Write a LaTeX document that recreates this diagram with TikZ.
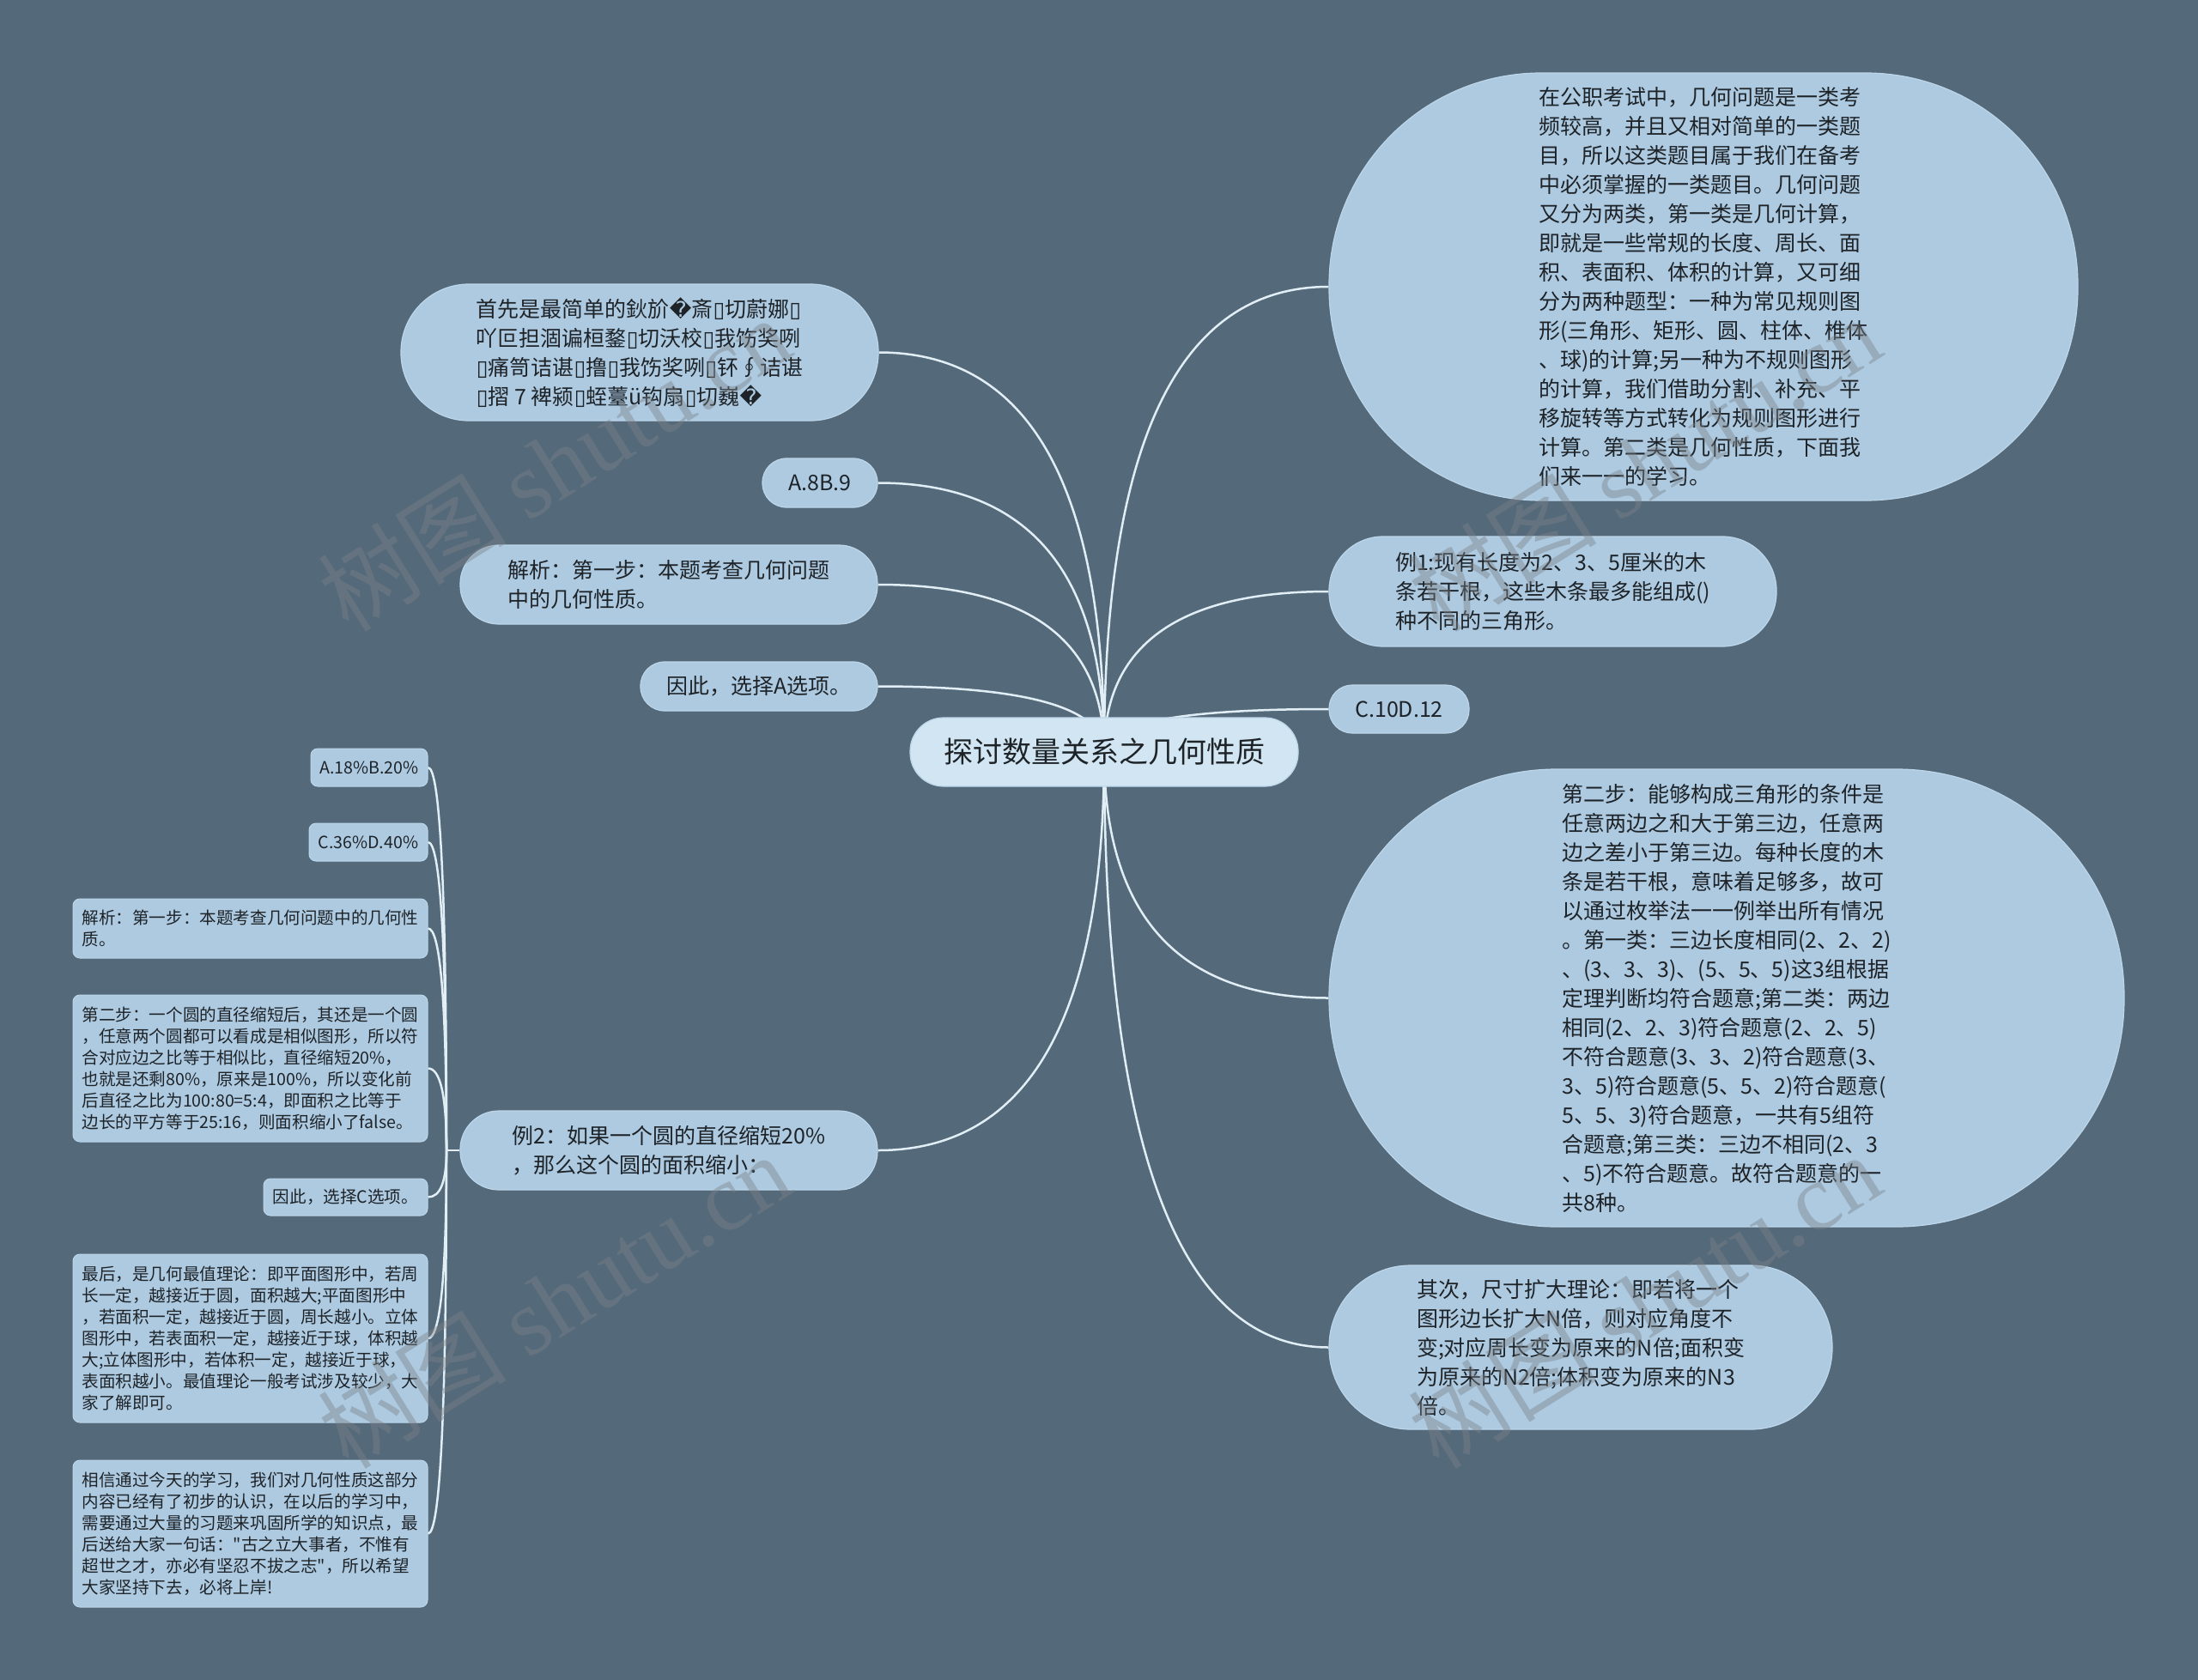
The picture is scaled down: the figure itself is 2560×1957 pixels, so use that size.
\documentclass[tikz,border=0pt]{standalone}
\usepackage{fontspec}
\setmainfont{Noto Sans CJK SC}[Ligatures=TeXOff]
\newfontfamily\dvs{DejaVu Sans}
\newfontfamily\wmserif{Liberation Serif}
\usetikzlibrary{calc}
\pgfdeclarelayer{bglayer}
\pgfdeclarelayer{linelayer}
\pgfdeclarelayer{wmlayer}
\pgfsetlayers{bglayer,linelayer,main,wmlayer}
\definecolor{bgc}{HTML}{546A7A}
\definecolor{nodec}{HTML}{ADCAE1}
\definecolor{nodeb}{HTML}{BDD6EA}
\definecolor{rootc}{HTML}{D1E6F2}
\definecolor{linec}{HTML}{E2EEF5}
\definecolor{txtc}{HTML}{1E2328}
\definecolor{wmc}{HTML}{7C8186}
\newcommand\tfb{{\dvs ▯}}
\newcommand\rpch{{\dvs �}}
\begin{document}
\begin{tikzpicture}[x=1pt,y=-1pt,
  bub/.style={fill=nodec,draw=nodeb,line width=1.2pt,inner sep=0pt,align=left,text=txtc,
    font=\fontsize{25}{34}\selectfont},
  rootbox/.style={fill=rootc,draw=nodeb,line width=1.2pt,inner sep=0pt,text=txtc,
    font=\fontsize{34}{40}\selectfont,minimum width=452pt,minimum height=80pt,rounded corners=39pt},
  leaf/.style={fill=nodec,draw=nodeb,line width=1pt,inner sep=0pt,align=left,text=txtc,
    rounded corners=8pt,font=\fontsize{19.6}{25}\selectfont},
  conn/.style={draw=linec,line width=2.5pt},
  wmark/.style={text=wmc,text opacity=0.42,rotate=32,inner sep=0pt,font=\fontsize{110}{110}\selectfont}]
\useasboundingbox (0,0) rectangle (2560,1957);
\begin{pgfonlayer}{bglayer}
\fill[bgc] (0,0) rectangle (2560,1957);
\end{pgfonlayer}

% root
\node[rootbox] (c) at (1286,876) {探讨数量关系之几何性质};

% right side
\node[bub,minimum width=872pt,minimum height=498pt,rounded corners=247pt] (intro) at (1984,334)
{在公职考试中，几何问题是一类考\\频较高，并且又相对简单的一类题\\目，所以这类题目属于我们在备考\\中必须掌握的一类题目。几何问题\\又分为两类，第一类是几何计算，\\即就是一些常规的长度、周长、面\\积、表面积、体积的计算，又可细\\分为两种题型：一种为常见规则图\\形(三角形、矩形、圆、柱体、椎体\\、球)的计算;另一种为不规则图形\\的计算，我们借助分割、补充、平\\移旋转等方式转化为规则图形进行\\计算。第二类是几何性质，下面我\\们来一一的学习。};
\node[bub,minimum width=521pt,minimum height=128pt,rounded corners=63pt] (ex1) at (1808.5,689)
{例1:现有长度为2、3、5厘米的木\\条若干根，这些木条最多能组成()\\种不同的三角形。};
\node[bub,minimum width=163pt,minimum height=56pt,rounded corners=27pt] (cd) at (1629.5,826) {C.10D.12};
\node[bub,minimum width=926pt,minimum height=533pt,rounded corners=265pt] (step2) at (2011,1162.5)
{第二步：能够构成三角形的条件是\\任意两边之和大于第三边，任意两\\边之差小于第三边。每种长度的木\\条是若干根，意味着足够多，故可\\以通过枚举法一一例举出所有情况\\。第一类：三边长度相同(2、2、2)\\、(3、3、3)、(5、5、5)这3组根据\\定理判断均符合题意;第二类：两边\\相同(2、2、3)符合题意(2、2、5)\\不符合题意(3、3、2)符合题意(3、\\3、5)符合题意(5、5、2)符合题意(\\5、5、3)符合题意，一共有5组符\\合题意;第三类：三边不相同(2、3\\、5)不符合题意。故符合题意的一\\共8种。};
\node[bub,minimum width=586pt,minimum height=191pt,rounded corners=95pt] (sz) at (1841,1569.5)
{其次，尺寸扩大理论：即若将一个\\图形边长扩大N倍，则对应角度不\\变;对应周长变为原来的N倍;面积变\\为原来的N2倍;体积变为原来的N3\\倍。};

% left side
\node[bub,minimum width=556pt,minimum height=159pt,rounded corners=79pt] (gb) at (745,410.5)
{首先是最简单的鈥斺\rpch 斎\tfb 切蔚娜\tfb\\吖叵担涸谝桓鍪\tfb 切沃校\tfb 我饬奖咧\\\tfb 痛笥诘谌\tfb 撸\tfb 我饬奖咧\tfb 钚∮诘谌\\\tfb 摺 7 裨颍\tfb 蛭薹ü钩扇\tfb 切巍\rpch};
\node[bub,minimum width=134pt,minimum height=57pt,rounded corners=28pt] (ab) at (955,562.5) {A.8B.9};
\node[bub,minimum width=486pt,minimum height=92pt,rounded corners=45pt] (jx) at (779,681)
{解析：第一步：本题考查几何问题\\中的几何性质。};
\node[bub,minimum width=276pt,minimum height=57pt,rounded corners=28pt] (ya) at (884,799.5) {因此，选择A选项。};
\node[bub,minimum width=486pt,minimum height=92pt,rounded corners=45pt] (ex2) at (779,1340)
{例2：如果一个圆的直径缩短20\%\\，那么这个圆的面积缩小：};

% leaves
\node[leaf,minimum width=136pt,minimum height=44pt] (l1) at (430,894) {A.18\%B.20\%};
\node[leaf,minimum width=138pt,minimum height=44pt] (l2) at (429,981) {C.36\%D.40\%};
\node[leaf,minimum width=413pt,minimum height=69pt] (l3) at (291.5,1081.5)
{解析：第一步：本题考查几何问题中的几何性\\质。\hphantom{一一一一一一一一一一一一一一一一一一}};
\node[leaf,minimum width=413pt,minimum height=171pt] (l4) at (291.5,1244.5)
{第二步：一个圆的直径缩短后，其还是一个圆\\，任意两个圆都可以看成是相似图形，所以符\\合对应边之比等于相似比，直径缩短20\%，\\也就是还剩80\%，原来是100\%，所以变化前\\后直径之比为100:80=5:4，即面积之比等于\\边长的平方等于25:16，则面积缩小了false。};
\node[leaf,minimum width=191pt,minimum height=43pt] (l5) at (402.5,1394.5) {因此，选择C选项。};
\node[leaf,minimum width=413pt,minimum height=196pt] (l6) at (291.5,1559)
{最后，是几何最值理论：即平面图形中，若周\\长一定，越接近于圆，面积越大;平面图形中\\，若面积一定，越接近于圆，周长越小。立体\\图形中，若表面积一定，越接近于球，体积越\\大;立体图形中，若体积一定，越接近于球，\\表面积越小。最值理论一般考试涉及较少，大\\家了解即可。};
\node[leaf,minimum width=413pt,minimum height=171pt] (l7) at (291.5,1786.5)
{相信通过今天的学习，我们对几何性质这部分\\内容已经有了初步的认识，在以后的学习中，\\需要通过大量的习题来巩固所学的知识点，最\\后送给大家一句话："古之立大事者，不惟有\\超世之才，亦必有坚忍不拔之志"，所以希望\\大家坚持下去，必将上岸!};

% connectors
\begin{pgfonlayer}{linelayer}
\foreach \n/\a in {intro/west,ex1/west,cd/west,step2/west,sz/west,gb/east,ab/east,jx/east,ya/east,ex2/east}{
  \coordinate (k) at (c.center |- \n.\a);
  \draw[conn] (c.center) .. controls ($(c.center)!0.667!(k)$) and ($(\n.\a)!0.667!(k)$) .. (\n.\a);
}
\coordinate (j2) at (520,1340);
\draw[conn] (ex2.west) -- (j2);
\foreach \n in {l1,l2,l3,l4,l5,l6,l7}{
  \coordinate (k) at (j2 |- \n.east);
  \draw[conn] (j2) .. controls ($(j2)!0.667!(k)$) and ($(\n.east)!0.667!(k)$) .. (\n.east);
}
\end{pgfonlayer}

% watermarks
\begin{pgfonlayer}{wmlayer}
\node[wmark] (w1) at (645,540) {树图 {\wmserif shutu.cn}};
\node[wmark] (w2) at (1915,540) {树图 {\wmserif shutu.cn}};
\node[wmark] (w3) at (645,1515) {树图 {\wmserif shutu.cn}};
\node[wmark] (w4) at (1915,1515) {树图 {\wmserif shutu.cn}};
\end{pgfonlayer}
\end{tikzpicture}
\end{document}
